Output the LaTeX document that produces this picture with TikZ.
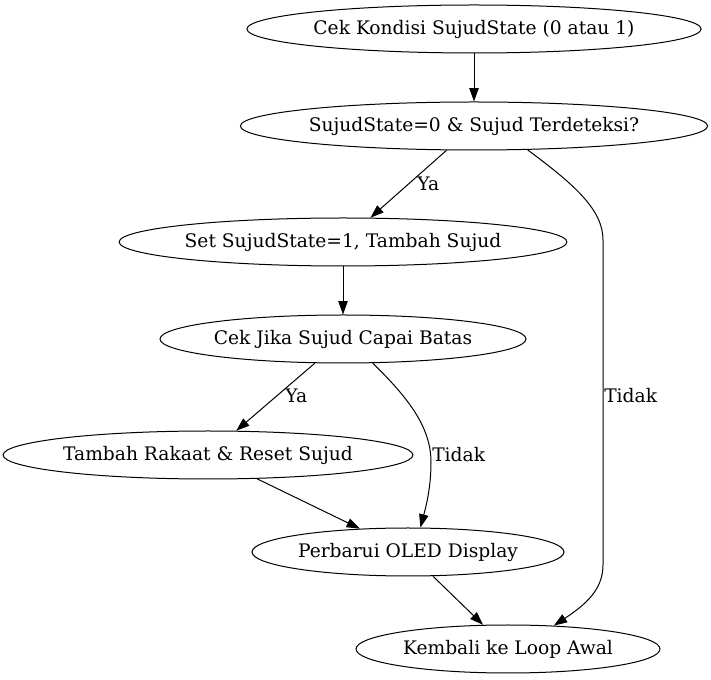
\documentclass[tikz,border=0pt]{standalone}
\usepackage{fontspec}
\setmainfont{DejaVu Serif}
\usetikzlibrary{shapes.geometric,arrows.meta}
\begin{document}
\begin{tikzpicture}[x=0.75pt,y=-0.75pt,
  every node/.style={font=\fontsize{14pt}{16pt}\selectfont},
  st/.style={ellipse,draw,line width=0.75pt,inner sep=0pt,minimum height=36pt},
  edge/.style={draw,line width=0.75pt,-{Triangle[length=10pt,width=7pt]}},
  lbl/.style={anchor=west,inner sep=0pt}]
\useasboundingbox (0,0) rectangle (711,680);
\node[st,minimum width=336pt]   (A) at (474,29)  {Cek Kondisi SujudState (0 atau 1)};
\node[st,minimum width=349.5pt] (B) at (474,126) {SujudState=0 \& Sujud Terdeteksi?};
\node[st,minimum width=334.5pt] (C) at (343,242) {Set SujudState=1, Tambah Sujud};
\node[st,minimum width=274.5pt] (D) at (343,339) {Cek Jika Sujud Capai Batas};
\node[st,minimum width=304.5pt] (E) at (208,455) {Tambah Rakaat \& Reset Sujud};
\node[st,minimum width=234pt]   (F) at (408,552) {Perbarui OLED Display};
\node[st,minimum width=228pt]   (G) at (508,649) {Kembali ke Loop Awal};

\draw[edge] (A) -- (B);
\draw[edge] (B) -- (C);
\draw[edge] (C) -- (D);
\draw[edge] (D) -- (E);
\draw[edge] (E) -- (F);
\draw[edge] (F) -- (G);
\draw[edge] (B.-24) .. controls (575,185) and (603,210) .. (603,240)
  -- (603,565) .. controls (603,590) and (585,605) .. (G.27);
\draw[edge] (D.-39) .. controls (405,395) and (431,425) .. (431,462)
  .. controls (431,490) and (425,510) .. (F.63);

\node[lbl] at (417,184) {Ya};
\node[lbl] at (285,396) {Ya};
\node[lbl] at (604,396) {Tidak};
\node[lbl] at (432,455) {Tidak};
\end{tikzpicture}
\end{document}
